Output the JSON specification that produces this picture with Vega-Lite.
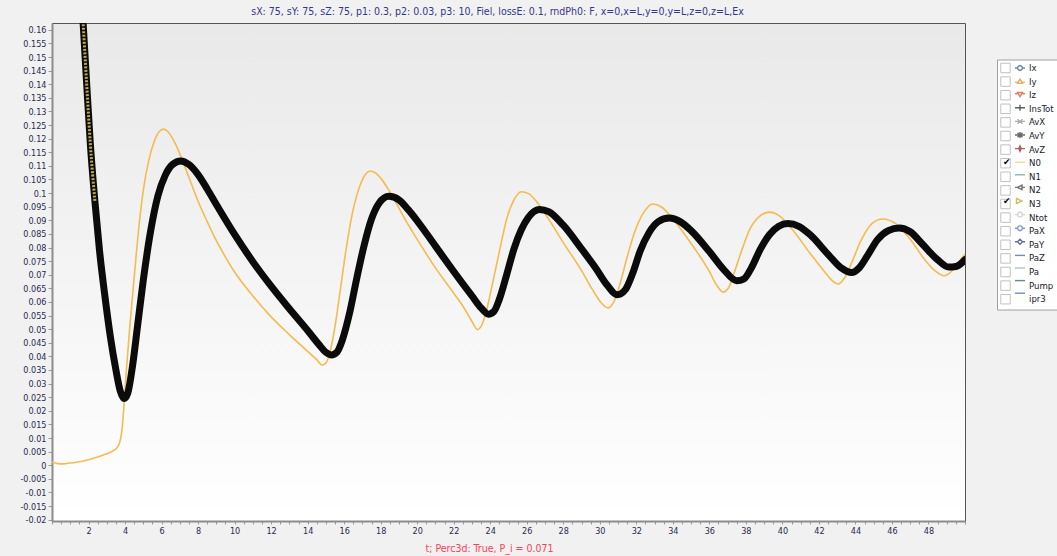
{
  "$schema": "https://vega.github.io/schema/vega-lite/v6.json",
  "width": 913,
  "height": 498,
  "autosize": {"type": "none"},
  "padding": {"left": 52, "top": 23, "right": 92, "bottom": 35},
  "background": "#f1f1f1",
  "title": {
    "text": "sX: 75, sY: 75, sZ: 75, p1: 0.3, p2: 0.03, p3: 10, Fiel, lossE: 0.1, rndPh0: F, x=0,x=L,y=0,y=L,z=0,z=L,Ex",
    "font": "DejaVu Sans Condensed",
    "fontSize": 10.5,
    "fontWeight": "normal",
    "color": "#35358a",
    "anchor": "middle",
    "dx": -11,
    "offset": 6
  },
  "config": {
    "view": {
      "fill": {"gradient": "linear", "x1": 0, "y1": 0, "x2": 0, "y2": 1,
        "stops": [{"offset": 0, "color": "#e9e9e9"}, {"offset": 1, "color": "#ffffff"}]},
      "stroke": "#555555",
      "strokeWidth": 1
    },
    "axis": {
      "grid": false,
      "domainColor": "#8c8c8c",
      "domainWidth": 2,
      "tickColor": "#9a9a9a",
      "tickSize": 4,
      "labelFont": "DejaVu Sans Condensed",
      "labelFontSize": 9,
      "labelColor": "#2a2a50",
      "labelPadding": 2,
      "labelOverlap": false,
      "labelFlush": false
    }
  },
  "datasets": {
    "n0": [
      {"t": 0, "v": 0.0012}, {"t": 0.3, "v": 0.0006}, {"t": 0.6, "v": 0.0005}, {"t": 1, "v": 0.0008},
      {"t": 1.5, "v": 0.0013}, {"t": 2, "v": 0.002}, {"t": 2.5, "v": 0.003}, {"t": 3, "v": 0.0042},
      {"t": 3.4, "v": 0.0055}, {"t": 3.6, "v": 0.0068}, {"t": 3.75, "v": 0.0095}, {"t": 3.85, "v": 0.014},
      {"t": 3.92, "v": 0.02}, {"t": 4.0, "v": 0.028}, {"t": 4.1, "v": 0.037}, {"t": 4.25, "v": 0.05},
      {"t": 4.5, "v": 0.069}, {"t": 4.75, "v": 0.087}, {"t": 5.0, "v": 0.101}, {"t": 5.3, "v": 0.112},
      {"t": 5.6, "v": 0.119}, {"t": 5.9, "v": 0.1228}, {"t": 6.1, "v": 0.1235}, {"t": 6.4, "v": 0.1222},
      {"t": 6.8, "v": 0.1175}, {"t": 7.2, "v": 0.111}, {"t": 7.6, "v": 0.104}, {"t": 8, "v": 0.097},
      {"t": 8.5, "v": 0.0895}, {"t": 9, "v": 0.0825}, {"t": 9.5, "v": 0.0765}, {"t": 10, "v": 0.071},
      {"t": 11, "v": 0.0622}, {"t": 12, "v": 0.0545}, {"t": 13, "v": 0.048}, {"t": 14, "v": 0.0418},
      {"t": 14.5, "v": 0.0388}, {"t": 14.8, "v": 0.0368}, {"t": 15.0, "v": 0.0375}, {"t": 15.2, "v": 0.041},
      {"t": 15.5, "v": 0.051}, {"t": 15.8, "v": 0.065}, {"t": 16.1, "v": 0.079}, {"t": 16.4, "v": 0.091},
      {"t": 16.8, "v": 0.1015}, {"t": 17.1, "v": 0.1062}, {"t": 17.4, "v": 0.108}, {"t": 17.7, "v": 0.1075},
      {"t": 18, "v": 0.1055}, {"t": 18.5, "v": 0.1005}, {"t": 19, "v": 0.0945}, {"t": 19.5, "v": 0.0885},
      {"t": 20, "v": 0.083}, {"t": 21, "v": 0.0725}, {"t": 22, "v": 0.0632}, {"t": 22.5, "v": 0.0585},
      {"t": 23, "v": 0.0528}, {"t": 23.3, "v": 0.0498}, {"t": 23.5, "v": 0.051}, {"t": 23.8, "v": 0.057},
      {"t": 24.1, "v": 0.066}, {"t": 24.5, "v": 0.0785}, {"t": 24.9, "v": 0.0905}, {"t": 25.3, "v": 0.0975},
      {"t": 25.7, "v": 0.1005}, {"t": 26.1, "v": 0.0998}, {"t": 26.5, "v": 0.0972}, {"t": 27, "v": 0.0925},
      {"t": 28, "v": 0.0818}, {"t": 29, "v": 0.0715}, {"t": 29.6, "v": 0.0645}, {"t": 30.1, "v": 0.0595},
      {"t": 30.45, "v": 0.0578}, {"t": 30.8, "v": 0.0605}, {"t": 31.1, "v": 0.0665}, {"t": 31.5, "v": 0.0765},
      {"t": 31.9, "v": 0.0855}, {"t": 32.4, "v": 0.0928}, {"t": 32.9, "v": 0.096}, {"t": 33.4, "v": 0.0948},
      {"t": 34, "v": 0.0905}, {"t": 35, "v": 0.0815}, {"t": 36, "v": 0.0712}, {"t": 36.4, "v": 0.0662},
      {"t": 36.75, "v": 0.0636}, {"t": 37.05, "v": 0.0652}, {"t": 37.4, "v": 0.0715}, {"t": 37.8, "v": 0.0795},
      {"t": 38.2, "v": 0.0865}, {"t": 38.7, "v": 0.0912}, {"t": 39.3, "v": 0.093}, {"t": 39.8, "v": 0.0918},
      {"t": 40.5, "v": 0.087}, {"t": 41.5, "v": 0.078}, {"t": 42.3, "v": 0.0712}, {"t": 42.7, "v": 0.068},
      {"t": 43.05, "v": 0.0666}, {"t": 43.4, "v": 0.0688}, {"t": 43.8, "v": 0.0745}, {"t": 44.3, "v": 0.0825},
      {"t": 44.9, "v": 0.0888}, {"t": 45.5, "v": 0.0905}, {"t": 46.2, "v": 0.0888}, {"t": 47, "v": 0.083},
      {"t": 47.8, "v": 0.0755}, {"t": 48.4, "v": 0.0712}, {"t": 48.85, "v": 0.0696}, {"t": 49.25, "v": 0.0712},
      {"t": 49.6, "v": 0.0742}, {"t": 50, "v": 0.0775}
    ],
    "n3": [
      {"t": 1.55, "v": 0.18}, {"t": 1.7, "v": 0.163}, {"t": 1.9, "v": 0.14}, {"t": 2.1, "v": 0.118},
      {"t": 2.35, "v": 0.097}, {"t": 2.6, "v": 0.079}, {"t": 2.9, "v": 0.062}, {"t": 3.2, "v": 0.047},
      {"t": 3.5, "v": 0.035}, {"t": 3.75, "v": 0.027}, {"t": 3.95, "v": 0.0245}, {"t": 4.15, "v": 0.0265},
      {"t": 4.4, "v": 0.036}, {"t": 4.7, "v": 0.052}, {"t": 5.0, "v": 0.068}, {"t": 5.4, "v": 0.086},
      {"t": 5.8, "v": 0.099}, {"t": 6.2, "v": 0.1065}, {"t": 6.6, "v": 0.1105}, {"t": 7.05, "v": 0.1118},
      {"t": 7.5, "v": 0.1105}, {"t": 8, "v": 0.1068}, {"t": 8.5, "v": 0.1015}, {"t": 9, "v": 0.0958},
      {"t": 10, "v": 0.0848}, {"t": 11, "v": 0.0748}, {"t": 12, "v": 0.0658}, {"t": 13, "v": 0.0575},
      {"t": 14, "v": 0.0495}, {"t": 14.6, "v": 0.0445}, {"t": 15.0, "v": 0.0415}, {"t": 15.3, "v": 0.0405},
      {"t": 15.6, "v": 0.0415}, {"t": 15.9, "v": 0.046}, {"t": 16.3, "v": 0.056}, {"t": 16.7, "v": 0.069},
      {"t": 17.1, "v": 0.081}, {"t": 17.5, "v": 0.0905}, {"t": 17.9, "v": 0.0962}, {"t": 18.45, "v": 0.0988},
      {"t": 19, "v": 0.0975}, {"t": 19.5, "v": 0.094}, {"t": 20, "v": 0.0898}, {"t": 21, "v": 0.0805},
      {"t": 22, "v": 0.0712}, {"t": 23, "v": 0.0622}, {"t": 23.5, "v": 0.0578}, {"t": 23.9, "v": 0.0555},
      {"t": 24.2, "v": 0.0565}, {"t": 24.5, "v": 0.061}, {"t": 24.9, "v": 0.07}, {"t": 25.3, "v": 0.0795},
      {"t": 25.7, "v": 0.0865}, {"t": 26.1, "v": 0.0912}, {"t": 26.7, "v": 0.094}, {"t": 27.2, "v": 0.0932},
      {"t": 28, "v": 0.0882}, {"t": 29, "v": 0.0795}, {"t": 29.8, "v": 0.0722}, {"t": 30.4, "v": 0.0662},
      {"t": 30.95, "v": 0.0626}, {"t": 31.4, "v": 0.0645}, {"t": 31.8, "v": 0.0705}, {"t": 32.2, "v": 0.0785},
      {"t": 32.7, "v": 0.0855}, {"t": 33.2, "v": 0.0895}, {"t": 33.8, "v": 0.0908}, {"t": 34.4, "v": 0.0895},
      {"t": 35, "v": 0.0862}, {"t": 36, "v": 0.0785}, {"t": 36.8, "v": 0.0718}, {"t": 37.5, "v": 0.0678},
      {"t": 37.9, "v": 0.0685}, {"t": 38.3, "v": 0.0725}, {"t": 38.8, "v": 0.0795}, {"t": 39.3, "v": 0.0848},
      {"t": 39.8, "v": 0.0878}, {"t": 40.3, "v": 0.0888}, {"t": 40.9, "v": 0.0878}, {"t": 41.5, "v": 0.0848},
      {"t": 42.5, "v": 0.0775}, {"t": 43.2, "v": 0.0726}, {"t": 43.8, "v": 0.0708}, {"t": 44.2, "v": 0.0725},
      {"t": 44.7, "v": 0.0775}, {"t": 45.2, "v": 0.0828}, {"t": 45.8, "v": 0.0862}, {"t": 46.4, "v": 0.0872},
      {"t": 47, "v": 0.0858}, {"t": 47.7, "v": 0.081}, {"t": 48.5, "v": 0.0755}, {"t": 49.1, "v": 0.0728},
      {"t": 49.5, "v": 0.073}, {"t": 50, "v": 0.0755}
    ],
    "boxes": [
      {"entry": "Ix"}, {"entry": "Iy"}, {"entry": "Iz"}, {"entry": "InsTot"}, {"entry": "AvX"},
      {"entry": "AvY"}, {"entry": "AvZ"}, {"entry": "N0"}, {"entry": "N1"}, {"entry": "N2"},
      {"entry": "N3"}, {"entry": "Ntot"}, {"entry": "PaX"}, {"entry": "PaY"}, {"entry": "PaZ"},
      {"entry": "Pa"}, {"entry": "Pump"}, {"entry": "ipr3"}
    ],
    "markers": [
      {"marker": "ix"}, {"marker": "iy"}, {"marker": "iz"}, {"marker": "instot"}, {"marker": "avx"},
      {"marker": "avy"}, {"marker": "avz"}, {"marker": "n0"}, {"marker": "n1"}, {"marker": "n2"},
      {"marker": "n3"}, {"marker": "ntot"}, {"marker": "pax"}, {"marker": "pay"}, {"marker": "paz"},
      {"marker": "pa"}, {"marker": "pump"}, {"marker": "ipr3"}
    ]
  },
  "encoding": {
    "x": {
      "field": "t", "type": "quantitative",
      "scale": {"domain": [0, 50], "nice": false, "zero": false},
      "axis": {
        "title": "t; Perc3d: True, P_i = 0.071",
        "titleFont": "DejaVu Sans Condensed",
        "titleFontSize": 10.5,
        "titleFontWeight": "normal",
        "titleColor": "#ff3d55",
        "titleX": 437,
        "titleY": 27,
        "titleAlign": "center",
        "titleBaseline": "middle",
        "values": [0,0.5,1,1.5,2,2.5,3,3.5,4,4.5,5,5.5,6,6.5,7,7.5,8,8.5,9,9.5,10,10.5,11,11.5,12,12.5,13,13.5,14,14.5,15,15.5,16,16.5,17,17.5,18,18.5,19,19.5,20,20.5,21,21.5,22,22.5,23,23.5,24,24.5,25,25.5,26,26.5,27,27.5,28,28.5,29,29.5,30,30.5,31,31.5,32,32.5,33,33.5,34,34.5,35,35.5,36,36.5,37,37.5,38,38.5,39,39.5,40,40.5,41,41.5,42,42.5,43,43.5,44,44.5,45,45.5,46,46.5,47,47.5,48,48.5,49,49.5,50],
        "labelExpr": "datum.value % 2 == 0 && datum.value > 0 && datum.value < 50 ? '' + datum.value : ''",
        "tickSize": 3
      }
    },
    "y": {
      "field": "v", "type": "quantitative",
      "scale": {"domain": [-0.0205, 0.1625], "nice": false, "zero": false},
      "axis": {
        "title": null,
        "values": [-0.02,-0.015,-0.01,-0.005,0,0.005,0.01,0.015,0.02,0.025,0.03,0.035,0.04,0.045,0.05,0.055,0.06,0.065,0.07,0.075,0.08,0.085,0.09,0.095,0.1,0.105,0.11,0.115,0.12,0.125,0.13,0.135,0.14,0.145,0.15,0.155,0.16],
        "labelExpr": "'' + round(datum.value * 1000) / 1000"
      }
    }
  },
  "layer": [
    {
      "data": {"name": "n0"},
      "mark": {"type": "line", "color": "#f4bb4f", "strokeWidth": 1.6, "interpolate": "monotone", "clip": true}
    },
    {
      "data": {"name": "n3"},
      "mark": {"type": "line", "color": "#0b0b0b", "strokeWidth": 7, "interpolate": "monotone", "strokeJoin": "round", "strokeCap": "round", "clip": true}
    },
    {
      "data": {"name": "n3"},
      "transform": [{"filter": "datum.t <= 2.45"}],
      "mark": {"type": "line", "color": "#bcaa48", "strokeWidth": 3, "strokeDash": [2, 1.5], "interpolate": "monotone", "clip": true}
    },
    {
      "data": {"name": "boxes"},
      "transform": [{"filter": "false"}],
      "mark": {"type": "point", "filled": false, "shape": "square", "strokeWidth": 1},
      "encoding": {
        "color": {
          "field": "entry", "type": "nominal",
          "scale": {"domain": ["Ix","Iy","Iz","InsTot","AvX","AvY","AvZ","N0","N1","N2","N3","Ntot","PaX","PaY","PaZ","Pa","Pump","ipr3"], "range": ["#a8a8a8"]},
          "legend": {
            "orient": "none", "legendX": 945, "legendY": 36.5,
            "title": null, "direction": "vertical", "columns": 1,
            "symbolType": "square", "symbolSize": 90, "symbolStrokeWidth": 1,
            "labelOffset": 18, "labelFont": "DejaVu Sans Condensed", "labelFontSize": 9.5,
            "labelColor": "#1a1a2a", "labelLimit": 0,
            "rowPadding": -1.4, "padding": 3,
            "fillColor": "#ffffff", "strokeColor": "#a0a0a0",
            "zindex": 1
          }
        }
      }
    },
    {
      "data": {"name": "markers"},
      "transform": [{"filter": "false"}],
      "mark": {"type": "point", "filled": false, "strokeWidth": 1.4},
      "encoding": {
        "shape": {
          "field": "marker", "type": "nominal",
          "scale": {
            "domain": ["ix","iy","iz","instot","avx","avy","avz","n0","n1","n2","n3","ntot","pax","pay","paz","pa","pump","ipr3"],
            "range": [
              "M-1,0H-0.5M0.5,0H1M-0.5,0L-0.35,-0.35L0,-0.5L0.35,-0.35L0.5,0L0.35,0.35L0,0.5L-0.35,0.35Z",
              "M-1,0.1H-0.5M0.5,0.1H1M0,-0.5L0.5,0.35L-0.5,0.35Z",
              "M-1,-0.1H-0.5M0.5,-0.1H1M0,0.5L0.5,-0.35L-0.5,-0.35Z",
              "M-1,0H1M0,-0.6V0.6",
              "M-1,0H1M-0.5,-0.45L0.5,0.45M-0.5,0.45L0.5,-0.45",
              "M-1,0H1M-0.5,-0.45L0.5,0.45M-0.5,0.45L0.5,-0.45M0,-0.6V0.6",
              "M-1,0H1M0,-0.55L0.25,0L0,0.55L-0.25,0Z",
              "M-1,0H1",
              "M-1,0H1",
              "M-1,0H-0.5M0.4,0H1M-0.5,0L0.4,-0.45L0.4,0.45Z",
              "M-0.7,-0.5L0.4,0L-0.7,0.5Z",
              "M-1,0H-0.5M0.5,0H1M-0.5,0L-0.35,-0.35L0,-0.5L0.35,-0.35L0.5,0L0.35,0.35L0,0.5L-0.35,0.35Z",
              "M-1,0H-0.5M0.5,0H1M-0.5,0L-0.35,-0.35L0,-0.5L0.35,-0.35L0.5,0L0.35,0.35L0,0.5L-0.35,0.35Z",
              "M-1,0H-0.5M0.5,0H1M0,-0.5L0.5,0L0,0.5L-0.5,0Z",
              "M-1,0H1",
              "M-1,0H1",
              "M-1,0H1",
              "M-1,0H1"
            ]
          },
          "legend": {
            "orient": "none", "legendX": 962, "legendY": 39,
            "title": null, "direction": "vertical", "columns": 1, "padding": 0,
            "symbolSize": 100, "symbolStrokeWidth": 1.4,
            "labelExpr": "datum.value == 'n0' || datum.value == 'n3' ? '✔' : ''",
            "labelOffset": -23, "labelFont": "DejaVu Sans", "labelFontSize": 9,
            "labelColor": "#000000",
            "rowPadding": 1.6,
            "zindex": 2
          }
        },
        "stroke": {
          "field": "marker", "type": "nominal",
          "scale": {
            "domain": ["ix","iy","iz","instot","avx","avy","avz","n0","n1","n2","n3","ntot","pax","pay","paz","pa","pump","ipr3"],
            "range": ["#34508a","#e08a20","#d04a22","#1a1a1a","#8a8a8a","#2a2a2a","#9a1818","#f5c56a","#4f9f86","#3a3a3a","#b8a230","#c4c4c4","#4a70b8","#1f3366","#3c5a9c","#8ca5d8","#2d4a8f","#3c5a9c"]
          },
          "legend": {
            "orient": "none", "legendX": 962, "legendY": 39,
            "title": null, "direction": "vertical", "columns": 1, "padding": 0,
            "symbolSize": 100, "symbolStrokeWidth": 1.4,
            "labelExpr": "datum.value == 'n0' || datum.value == 'n3' ? '✔' : ''",
            "labelOffset": -23, "labelFont": "DejaVu Sans", "labelFontSize": 9,
            "labelColor": "#000000",
            "rowPadding": 1.6,
            "zindex": 2
          }
        }
      }
    }
  ]
}
